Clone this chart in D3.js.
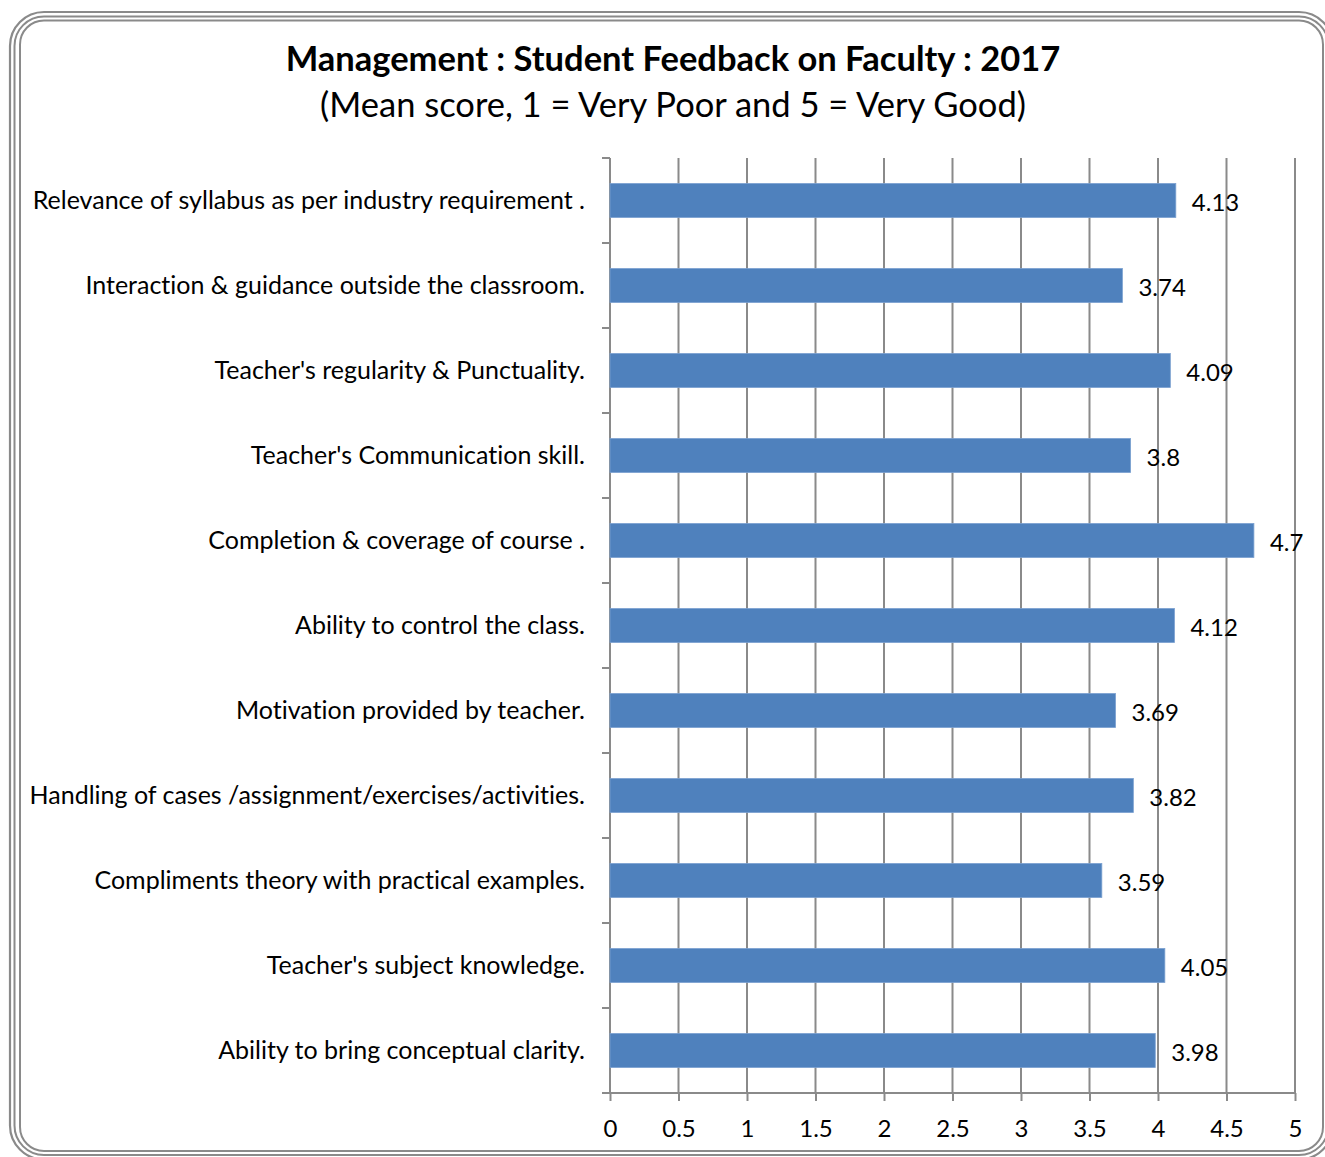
<!DOCTYPE html>
<html><head><meta charset="utf-8">
<script src="https://cdn.jsdelivr.net/npm/d3@7"></script>
<style>body{margin:0;background:#fff;}svg{display:block;} text{font-variant-ligatures:none;font-feature-settings:"liga" 0;}</style>
</head><body>
<script>
const categories = [
  "Relevance of syllabus as per industry requirement .",
  "Interaction & guidance outside the classroom.",
  "Teacher's regularity & Punctuality.",
  "Teacher's Communication skill.",
  "Completion & coverage of course .",
  "Ability to control the class.",
  "Motivation provided by teacher.",
  "Handling of cases /assignment/exercises/activities.",
  "Compliments theory with practical examples.",
  "Teacher's subject knowledge.",
  "Ability to bring conceptual clarity."
];
const values = [4.13, 3.74, 4.09, 3.8, 4.7, 4.12, 3.69, 3.82, 3.59, 4.05, 3.98];
const valueLabels = ["4.13","3.74","4.09","3.8","4.7","4.12","3.69","3.82","3.59","4.05","3.98"];
const xTicks = [0, 0.5, 1, 1.5, 2, 2.5, 3, 3.5, 4, 4.5, 5];
const title = "Management : Student Feedback on Faculty : 2017";
const subtitle = "(Mean score, 1 = Very Poor and 5 = Very Good)";

const W = 1325, H = 1157;
const font = "Lato, 'Open Sans', sans-serif";
const svg = d3.select("body").append("svg").attr("width", W).attr("height", H);

// frame (three concentric rounded outlines)
[[10, 12, 2.2], [14.5, 16.5, 2], [20, 20.5, 2]].forEach(([fx, fy, sw]) => {
  svg.append("rect").attr("x", fx).attr("y", fy)
    .attr("width", 1343 - 2 * fx)
    .attr("height", 1171.5 - 2 * fy)
    .attr("rx", 34 - (fx - 10)).attr("ry", 34 - (fx - 10))
    .attr("fill", "none").attr("stroke", "#8a8a8a").attr("stroke-width", sw);
});

const x = d3.scaleLinear().domain([0, 5]).range([610, 1295]);
const y = d3.scaleBand().domain(categories).range([158, 1093]).paddingInner(0.6).paddingOuter(0.3);
const yOuter = d3.scaleBand().domain(categories).range([158, 1093]);

// vertical gridlines
svg.append("g").selectAll("line").data(xTicks.slice(1)).join("line")
  .attr("x1", d => x(d)).attr("x2", d => x(d)).attr("y1", 158).attr("y2", 1093)
  .attr("stroke", "#8a8a8a").attr("stroke-width", 2);

// x axis
const xAxis = d3.axisBottom(x).tickValues(xTicks).tickSize(8).tickPadding(19).tickFormat(d3.format("~g"));
const ax = svg.append("g").attr("transform", "translate(0,1093)").call(xAxis);
ax.select(".domain").attr("stroke", "#8a8a8a").attr("stroke-width", 2).attr("d", "M610,0H1295");
ax.selectAll(".tick line").attr("stroke", "#8a8a8a").attr("stroke-width", 2);
ax.selectAll(".tick text").attr("font-family", font).attr("font-size", 24).attr("fill", "#000");

// y axis line and category ticks
svg.append("line").attr("x1", 610).attr("x2", 610).attr("y1", 158).attr("y2", 1093)
  .attr("stroke", "#8a8a8a").attr("stroke-width", 2);
const bounds = categories.map(c => yOuter(c)).concat([1093]);
svg.append("g").selectAll("line").data(bounds).join("line")
  .attr("x1", 602).attr("x2", 610).attr("y1", d => d).attr("y2", d => d)
  .attr("stroke", "#8a8a8a").attr("stroke-width", 2);

// bars
svg.append("g").selectAll("rect").data(values).join("rect")
  .attr("x", x(0)).attr("y", (d, i) => y(categories[i]))
  .attr("width", d => x(d) - x(0)).attr("height", y.bandwidth())
  .attr("fill", "#4f81bd").attr("stroke", "#7aa0d0").attr("stroke-width", 0.8);

// category labels
svg.append("g").selectAll("text").data(categories).join("text")
  .attr("x", 585).attr("y", d => yOuter(d) + yOuter.bandwidth() / 2)
  .attr("dy", "0.35em").attr("text-anchor", "end")
  .attr("font-family", font).attr("font-size", 25).attr("fill", "#000").text(d => d);

// value labels
svg.append("g").selectAll("text").data(values).join("text")
  .attr("x", d => x(d) + 16).attr("y", (d, i) => yOuter(categories[i]) + yOuter.bandwidth() / 2 + 2)
  .attr("dy", "0.35em").attr("font-family", font).attr("font-size", 24).attr("fill", "#000")
  .text((d, i) => valueLabels[i]);

// titles
svg.append("text").attr("x", 673).attr("y", 71).attr("text-anchor", "middle")
  .attr("font-family", font).attr("font-weight", "bold").attr("font-size", 34.5).text(title);
svg.append("text").attr("x", 673).attr("y", 117).attr("text-anchor", "middle")
  .attr("font-family", font).attr("font-size", 34.5).text(subtitle);
</script>
</body></html>
